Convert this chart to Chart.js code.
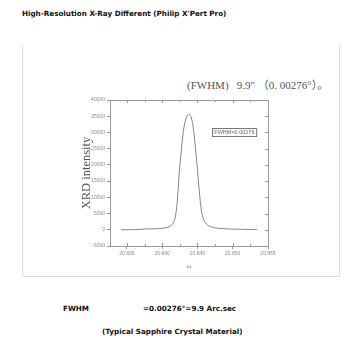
<!DOCTYPE html>
<html>
<head>
<meta charset="utf-8">
<script src="https://cdn.jsdelivr.net/npm/chart.js@4/dist/chart.umd.min.js"></script>
<style>
  body { margin: 0; background: #fff; }
  #wrap { position: relative; width: 355px; height: 350px; overflow: hidden; }
  #frame { position: absolute; left: 22px; top: 45px; width: 318px; height: 232px; border: 1px solid #dedede; border-top: none; box-sizing: border-box; }
  .t { position: absolute; white-space: nowrap; color: #111; }
  .bold { font-family: "DejaVu Sans", Verdana, sans-serif; font-weight: bold; font-size: 7.2px; }
  .serif { font-family: "Liberation Serif", "Noto Sans CJK SC", serif; color: #555; }
  canvas { position: absolute; left: 0; top: 0; }
</style>
</head>
<body>
<div id="wrap">
  <div id="frame"></div>
  <div class="t bold" style="left:22px; top:9px;">High-Resolution X-Ray Different (Philip X'Pert Pro)</div>
  <div class="t serif" style="left:187px; top:76px; font-size:11px;">(FWHM)&nbsp;&nbsp; 9.9" （0. 00276°）。</div>
  <div class="t bold" style="left:63px; top:304px;">FWHM</div>
  <div class="t bold" style="left:143px; top:304px;">=0.00276°=9.9 Arc.sec</div>
  <div class="t bold" style="left:102px; top:327px;">(Typical Sapphire Crystal Material)</div>
  <canvas id="c" width="355" height="350"></canvas>
</div>
<script>
'use strict';

// omega (deg) and XRD intensity
const omega     = [20.83413, 20.83660, 20.83761, 20.83950, 20.84066, 20.84124, 20.84153, 20.84182,
                   20.84211, 20.84240, 20.84269, 20.84298, 20.84327, 20.84356, 20.84385, 20.84414,
                   20.84443, 20.84472, 20.84500, 20.84530, 20.84559, 20.84602, 20.84660, 20.84747,
                   20.84892, 20.85110, 20.85342];
const intensity = [0, 80, 250, 350, 700, 1300, 2000, 3500,
                   8000, 17000, 24000, 30000, 33500, 35300, 35600, 34500,
                   31000, 25000, 18500, 11000, 5500, 2500, 1200, 600,
                   300, 150, 50];
const xTicks = [20.835, 20.840, 20.845, 20.850, 20.855];
const yTicks = [-5000, 0, 5000, 10000, 15000, 20000, 25000, 30000, 35000, 40000];

const AXIS = '#9a9a9a';
const TICK_TXT = '#8c8c8c';

// box round the plot, with mirrored ticks on top and right, plus the FWHM label box
const boxPlugin = {
    id: 'box',
    afterDraw(chart) {
        const { ctx, chartArea: a, scales } = chart;
        ctx.save();
        ctx.strokeStyle = AXIS;
        ctx.lineWidth = 1;
        ctx.strokeRect(a.left + 0.5, a.top + 0.5, a.right - a.left, a.bottom - a.top);
        ctx.beginPath();
        for (let i = 0; i < xTicks.length - 1; i++) {
            for (let k = 0; k <= 1; k++) {
                const v = xTicks[i] + k * 0.0025;
                const px = Math.round(scales.x.getPixelForValue(v)) + 0.5;
                const len = k ? 2 : 3;
                ctx.moveTo(px, a.top); ctx.lineTo(px, a.top + len);
                ctx.moveTo(px, a.bottom); ctx.lineTo(px, a.bottom - len);
            }
        }
        yTicks.forEach(v => {
            const py = Math.round(scales.y.getPixelForValue(v)) + 0.5;
            ctx.moveTo(a.right, py); ctx.lineTo(a.right - 3, py);
        });
        ctx.stroke();

        // FWHM label box
        const bx = scales.x.getPixelForValue(20.8471), by = scales.y.getPixelForValue(31300);
        ctx.font = '5.5px "Liberation Sans", Arial, sans-serif';
        const txt = 'FWHM=0.00276';
        const w = ctx.measureText(txt).width + 4;
        ctx.fillStyle = '#fff';
        ctx.fillRect(bx, by, w, 8);
        ctx.strokeStyle = '#777';
        ctx.strokeRect(Math.round(bx) + 0.5, Math.round(by) + 0.5, w, 8);
        ctx.fillStyle = '#666';
        ctx.textBaseline = 'middle';
        ctx.fillText(txt, bx + 2, by + 4.5);
        ctx.restore();
    }
};

new Chart(document.getElementById('c'), {
    type: 'scatter',
    data: {
        datasets: [{
            data: omega.map((x, i) => ({ x, y: intensity[i] })),
            showLine: true,
            borderColor: '#8a8486',
            borderWidth: 1,
            pointRadius: 0,
            tension: 0.35,
            fill: false
        }]
    },
    options: {
        responsive: false,
        animation: false,
        layout: { padding: { left: 70, right: 87, top: 100, bottom: 78 } },
        plugins: { legend: { display: false }, tooltip: { enabled: false } },
        scales: {
            x: {
                type: 'linear',
                min: 20.8326,
                max: 20.855,
                afterFit: s => { s.height = 26; },
                afterBuildTicks: s => { s.ticks = xTicks.map(v => ({ value: v })); },
                grid: { drawOnChartArea: false, color: AXIS, tickLength: 3 },
                border: { color: AXIS },
                ticks: {
                    color: TICK_TXT, font: { size: 5, family: 'Liberation Sans' }, padding: 2,
                    maxRotation: 0, autoSkip: false,
                    callback: v => v.toFixed(3)
                },
                title: {
                    display: true, text: 'ω', color: '#777',
                    font: { size: 7, family: 'Liberation Serif' }, padding: { top: 2, bottom: 2 }
                }
            },
            y: {
                min: -5000,
                max: 40000,
                afterFit: s => { s.width = 40; },
                afterBuildTicks: s => { s.ticks = yTicks.map(v => ({ value: v })); },
                grid: { drawOnChartArea: false, color: AXIS, tickLength: 3 },
                border: { color: AXIS },
                ticks: {
                    color: TICK_TXT, font: { size: 5, family: 'Liberation Sans' }, padding: 2,
                    autoSkip: false,
                    callback: v => String(v)
                },
                title: {
                    display: true, text: 'XRD intensity', color: '#555',
                    font: { size: 12.5, family: 'Liberation Serif' }, padding: { top: 9, bottom: 0 }
                }
            }
        }
    },
    plugins: [boxPlugin]
});
</script>
</body>
</html>
